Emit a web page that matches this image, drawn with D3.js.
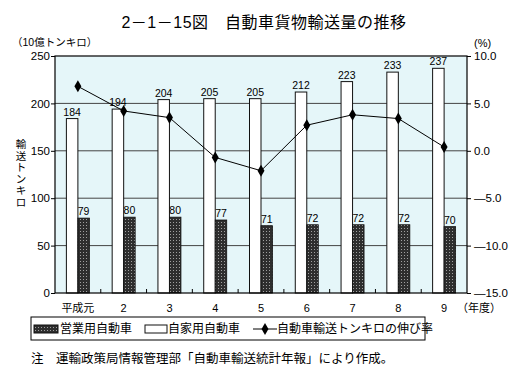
<!DOCTYPE html>
<html>
<head>
<meta charset="utf-8">
<script src="https://cdn.jsdelivr.net/npm/d3@7"></script>
<style>
  body { margin: 0; background: #fff; }
  svg { display: block; font-family: "Liberation Sans", "Noto Sans CJK JP", sans-serif; }
</style>
</head>
<body>
<div id="chart"></div>
<script>
const years = ["平成元", "2", "3", "4", "5", "6", "7", "8", "9"];
const eigyo = [79, 80, 80, 77, 71, 72, 72, 72, 70];          // 営業用自動車
const jika = [184, 194, 204, 205, 205, 212, 223, 233, 237];  // 自家用自動車
const rate = [6.8, 4.2, 3.5, -0.7, -2.1, 2.7, 3.8, 3.4, 0.4]; // 伸び率 (%)
const leftTicks = [0, 50, 100, 150, 200, 250];
const rightTicks = [10, 5, 0, -5, -10, -15];

const width = 516, height = 386;
const margin = { top: 56, right: 49, bottom: 93, left: 55 };
const plotW = width - margin.left - margin.right;
const plotH = height - margin.top - margin.bottom;

const svg = d3.select("#chart").append("svg")
    .attr("width", width)
    .attr("height", height);

// pattern for the dark bars
const defs = svg.append("defs");
const pat = defs.append("pattern")
    .attr("id", "dots")
    .attr("width", 3).attr("height", 3)
    .attr("patternUnits", "userSpaceOnUse");
pat.append("rect").attr("width", 3).attr("height", 3).attr("fill", "#2e2e2e");
pat.append("rect").attr("x", 1).attr("y", 1).attr("width", 1).attr("height", 1).attr("fill", "#a0a0a0");

const g = svg.append("g").attr("transform", `translate(${margin.left},${margin.top})`);

const x = d3.scaleBand().domain(years).range([0, plotW]).padding(0);
const y = d3.scaleLinear().domain([0, 250]).range([plotH, 0]);
const y2 = d3.scaleLinear().domain([-15, 10]).range([plotH, 0]);

// plot background
g.append("rect")
    .attr("width", plotW).attr("height", plotH)
    .attr("fill", "#e5f6f9");

// gridlines
g.selectAll(".grid")
    .data(leftTicks.filter(d => d > 0 && d < 250))
    .enter().append("line")
    .attr("x1", 0).attr("x2", plotW)
    .attr("y1", d => y(d)).attr("y2", d => y(d))
    .attr("stroke", "#444").attr("stroke-width", 1);

const cx = d => x(d) + x.bandwidth() / 2;
const barW = 11.5;

// white bars (自家用)
g.selectAll(".jika")
    .data(years)
    .enter().append("rect")
    .attr("x", d => cx(d) - barW)
    .attr("y", (d, i) => y(jika[i]))
    .attr("width", barW)
    .attr("height", (d, i) => plotH - y(jika[i]))
    .attr("fill", "#fff").attr("stroke", "#111").attr("stroke-width", 1);

// dark bars (営業用)
g.selectAll(".eigyo")
    .data(years)
    .enter().append("rect")
    .attr("x", d => cx(d))
    .attr("y", (d, i) => y(eigyo[i]))
    .attr("width", barW)
    .attr("height", (d, i) => plotH - y(eigyo[i]))
    .attr("fill", "url(#dots)").attr("stroke", "#111").attr("stroke-width", 0.8);

// value labels
g.selectAll(".jikaLab")
    .data(years)
    .enter().append("text")
    .attr("x", d => cx(d) - barW / 2)
    .attr("y", (d, i) => y(jika[i]) - 3)
    .attr("text-anchor", "middle")
    .attr("font-size", 10.5)
    .text((d, i) => jika[i]);

g.selectAll(".eigyoLab")
    .data(years)
    .enter().append("text")
    .attr("x", d => cx(d) + barW / 2)
    .attr("y", (d, i) => y(eigyo[i]) - 3)
    .attr("text-anchor", "middle")
    .attr("font-size", 10.5)
    .text((d, i) => eigyo[i]);

// growth rate line
const line = d3.line()
    .x((d, i) => cx(years[i]))
    .y(d => y2(d));

g.append("path")
    .datum(rate)
    .attr("fill", "none")
    .attr("stroke", "#000")
    .attr("stroke-width", 1)
    .attr("d", line);

g.selectAll(".pt")
    .data(rate)
    .enter().append("path")
    .attr("d", d3.symbol().type(d3.symbolDiamond).size(42))
    .attr("transform", (d, i) => `translate(${cx(years[i])},${y2(d)})`)
    .attr("fill", "#000");

// frame
g.append("rect")
    .attr("width", plotW).attr("height", plotH)
    .attr("fill", "none").attr("stroke", "#000").attr("stroke-width", 1.2);

// small ticks between categories on the bottom
g.selectAll(".btick")
    .data(years.slice(1))
    .enter().append("line")
    .attr("x1", d => x(d)).attr("x2", d => x(d))
    .attr("y1", plotH).attr("y2", plotH - 4)
    .attr("stroke", "#000");

// left axis
const yAxis = d3.axisLeft(y).tickValues(leftTicks).tickSize(4).tickPadding(1);
g.append("g").call(yAxis)
    .call(s => s.select(".domain").remove())
    .call(s => s.selectAll("text").attr("font-size", 11.5).attr("fill", "#000").style("font-family", "inherit"));

// right axis
const y2Axis = d3.axisRight(y2).tickValues(rightTicks).tickSize(4).tickPadding(3)
    .tickFormat(d => (d < 0 ? "\u2014" + Math.abs(d).toFixed(1) : d.toFixed(1)));
g.append("g").attr("transform", `translate(${plotW},0)`).call(y2Axis)
    .call(s => s.select(".domain").remove())
    .call(s => s.selectAll("text").attr("font-size", 11.5).attr("fill", "#000").style("font-family", "inherit"));

// x labels
g.selectAll(".xlab")
    .data(years)
    .enter().append("text")
    .attr("x", d => cx(d))
    .attr("y", plotH + 19)
    .attr("text-anchor", "middle")
    .attr("font-size", 11)
    .text(d => d);

svg.append("text")
    .attr("x", 457).attr("y", margin.top + plotH + 19)
    .attr("font-size", 11)
    .text("（年度）");

// title and axis captions
svg.append("text")
    .attr("x", 264).attr("y", 28)
    .attr("text-anchor", "middle")
    .attr("font-size", 16)
    .attr("letter-spacing", 0.5)
    .text("2－1－15図　自動車貨物輸送量の推移");

svg.append("text")
    .attr("x", 12).attr("y", 46)
    .attr("font-size", 10.5)
    .text("（10億トンキロ）");

svg.append("text")
    .attr("x", 474).attr("y", 47)
    .attr("font-size", 11)
    .text("(%)");

const yTitle = "輸送トンキロ".split("");
svg.selectAll(".ytitle")
    .data(yTitle)
    .enter().append("text")
    .attr("x", 21)
    .attr("y", (d, i) => 148 + i * 11.5)
    .attr("text-anchor", "middle")
    .attr("font-size", 10.5)
    .text(d => d);

// legend
const lg = svg.append("g").attr("transform", "translate(31,317)");
lg.append("rect").attr("width", 394).attr("height", 23)
    .attr("fill", "#fff").attr("stroke", "#000").attr("stroke-width", 1);
lg.append("rect").attr("x", 3).attr("y", 8).attr("width", 24).attr("height", 8)
    .attr("fill", "url(#dots)").attr("stroke", "#111");
lg.append("text").attr("x", 29).attr("y", 16).attr("font-size", 12).text("営業用自動車");
lg.append("rect").attr("x", 114).attr("y", 8).attr("width", 22).attr("height", 8)
    .attr("fill", "#fff").attr("stroke", "#111");
lg.append("text").attr("x", 137).attr("y", 16).attr("font-size", 12).text("自家用自動車");
lg.append("line").attr("x1", 222).attr("x2", 246).attr("y1", 12).attr("y2", 12)
    .attr("stroke", "#000");
lg.append("path")
    .attr("d", d3.symbol().type(d3.symbolDiamond).size(42))
    .attr("transform", "translate(234,12)");
lg.append("text").attr("x", 246).attr("y", 16).attr("font-size", 12).text("自動車輸送トンキロの伸び率");

// note
svg.append("text")
    .attr("x", 31).attr("y", 363)
    .attr("font-size", 12.5)
    .text("注　運輸政策局情報管理部「自動車輸送統計年報」により作成。");
</script>
</body>
</html>
